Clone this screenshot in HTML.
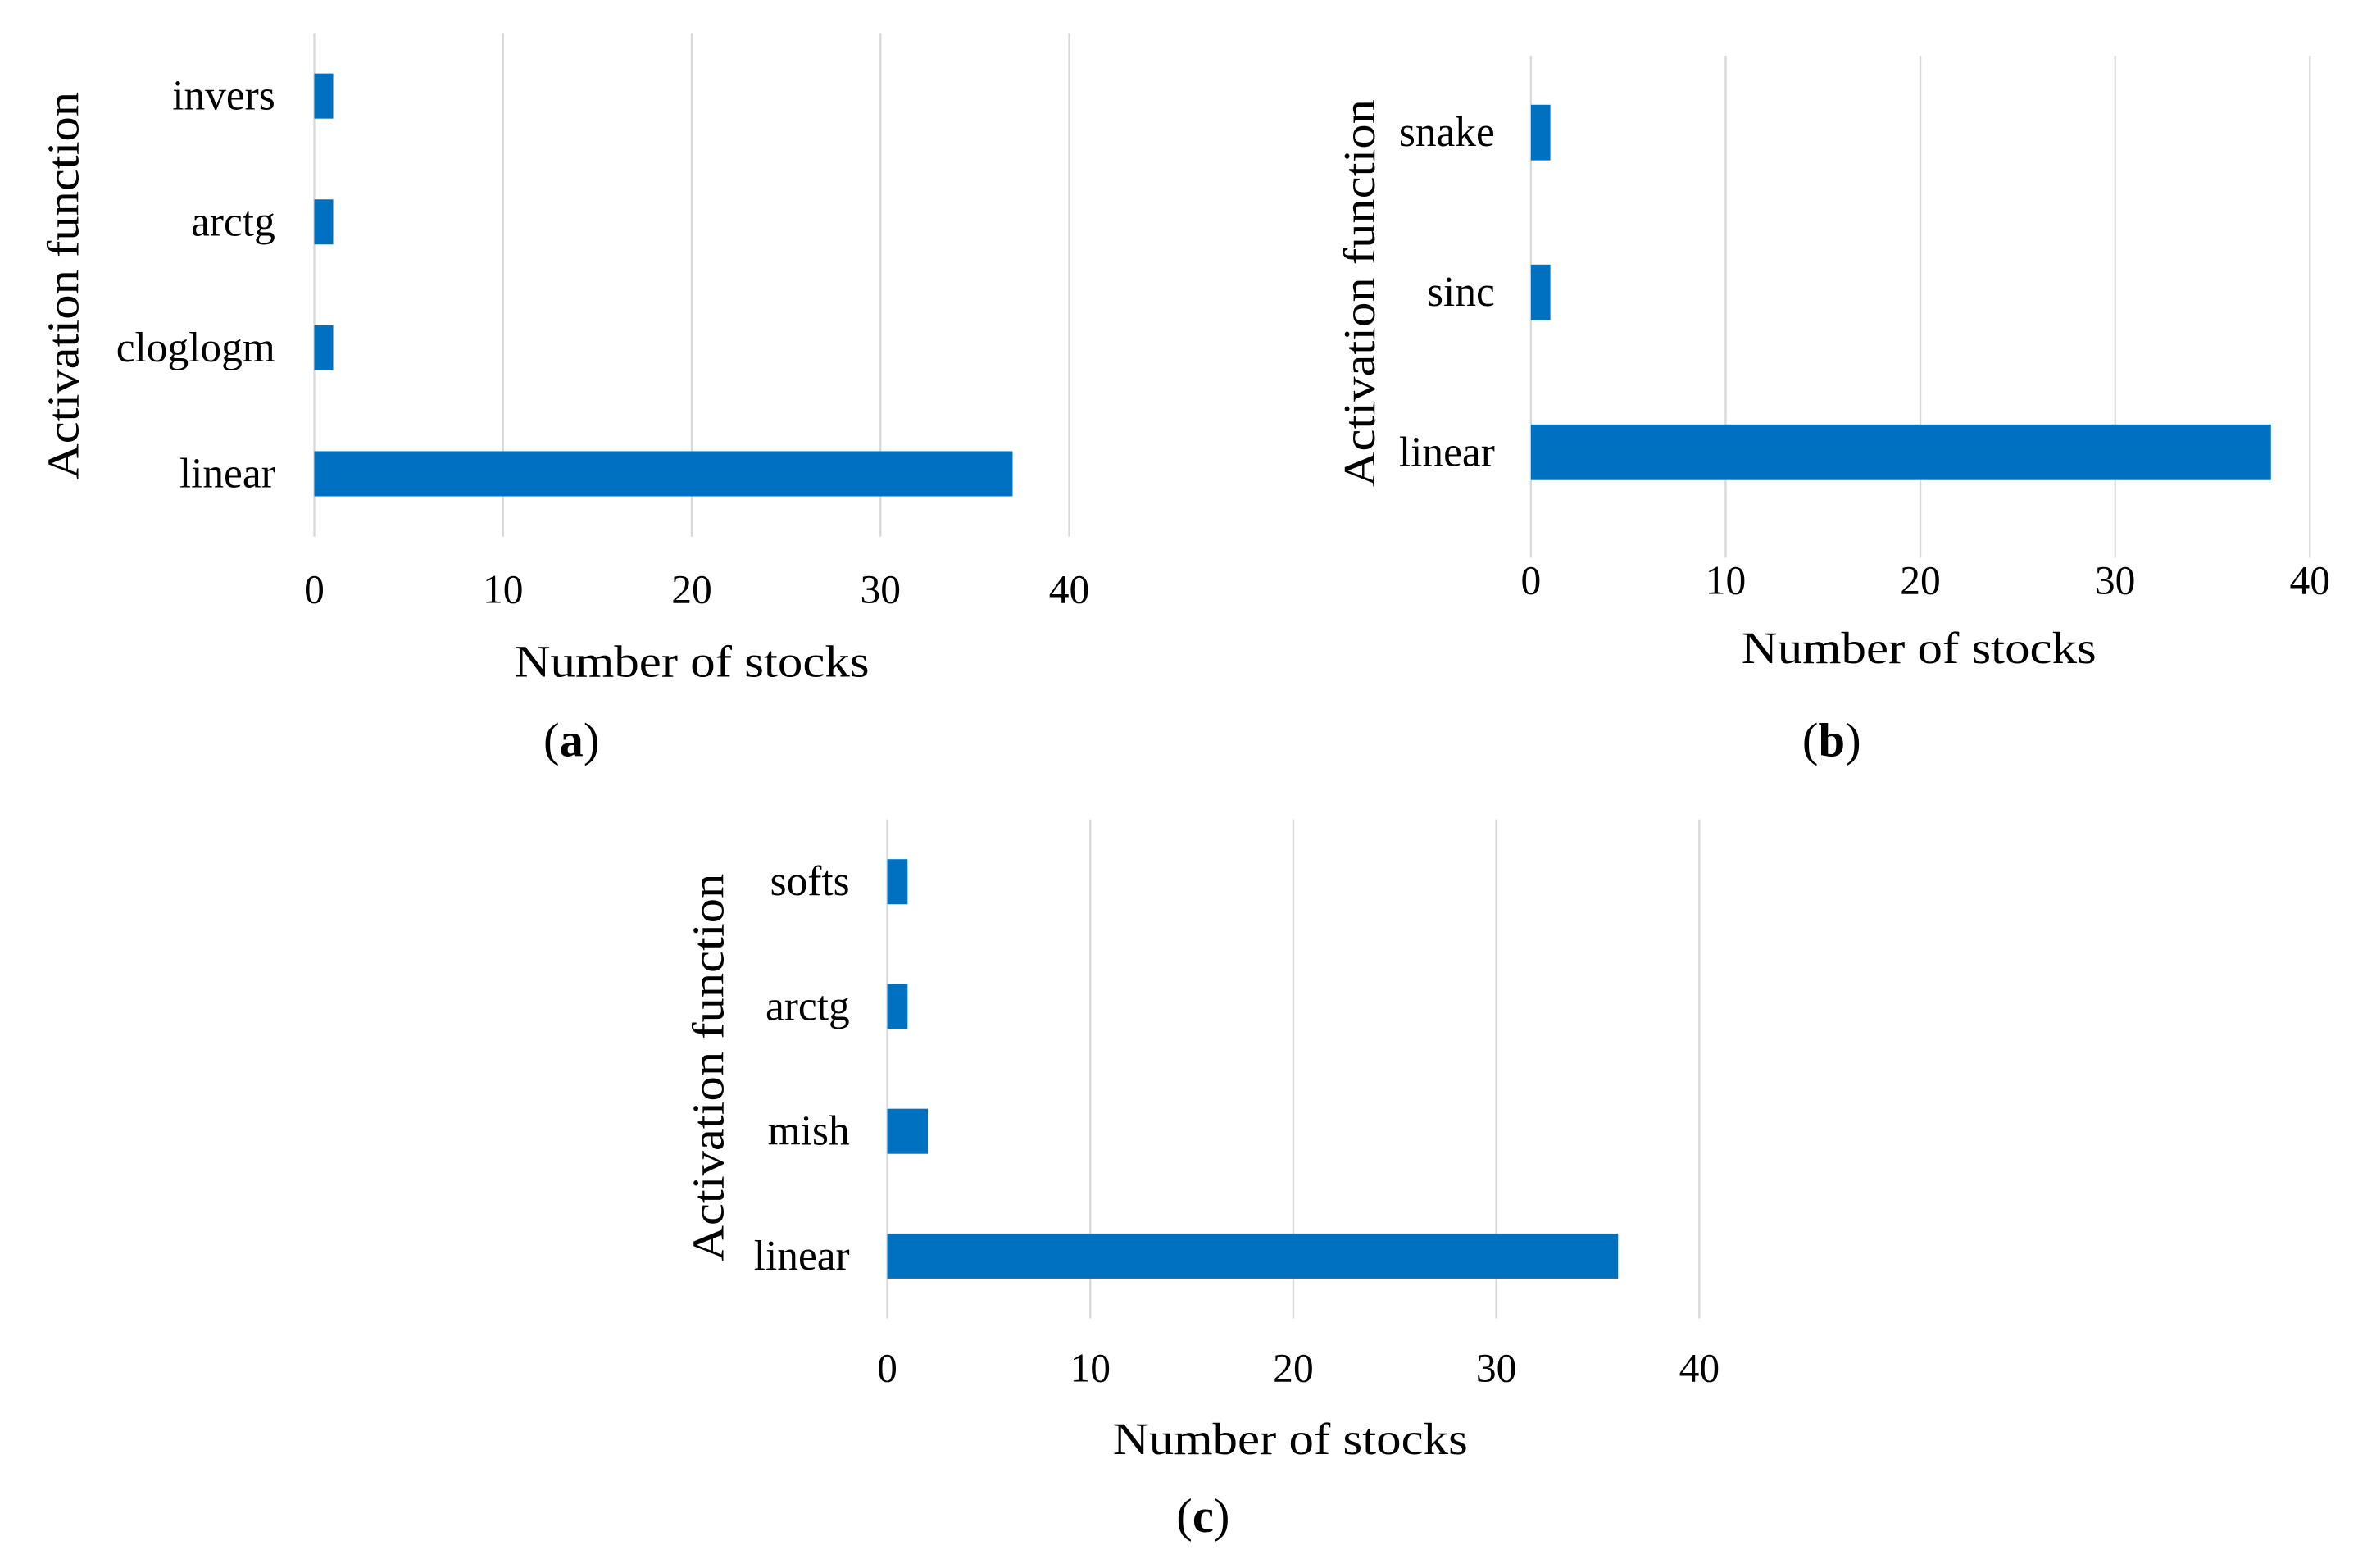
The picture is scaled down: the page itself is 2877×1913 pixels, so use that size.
<!DOCTYPE html>
<html><head><meta charset="utf-8"><style>
html,body{margin:0;padding:0;background:#fff;}
svg{display:block;}
text{font-family:"Liberation Serif",serif;fill:#000;}
</style></head><body>
<svg id="fig" width="2877" height="1913" viewBox="0 0 1568 1043" preserveAspectRatio="none" xmlns="http://www.w3.org/2000/svg"></svg>
<script>
const catsA = ["linear","cloglogm","arctg","invers"];
const valsA = [37,1,1,1];
const catsB = ["linear","sinc","snake"];
const valsB = [38,1,1];
const catsC = ["linear","mish","arctg","softs"];
const valsC = [36,2,1,1];
const ticks = [0,10,20,30,40];
const tickLabels = ["0","10","20","30","40"];

const NS="http://www.w3.org/2000/svg";
const svg=document.getElementById('fig');
function mk(tag,attrs,parent){const e=document.createElementNS(NS,tag);for(const k in attrs)e.setAttribute(k,attrs[k]);(parent||svg).appendChild(e);return e;}

function panel(id,cats,vals,cfg){
  const g=mk('g',{});
  
  
  const x=v=>cfg.x0+(cfg.x40-cfg.x0)*v/40;
  const n=cats.length, band=(cfg.bandBot-cfg.bandTop)/n;
  const yc=i=>cfg.bandBot-band*(i+0.5);
  ticks.forEach((t,i)=>{
    const l=mk('line',{x1:x(t),x2:x(t),y1:cfg.top,y2:cfg.bot,stroke:'#d9d9d9','stroke-width':1.3},g);
    
    
    const tx=mk('text',{x:x(t),y:cfg.tickY,'font-size':27,'text-anchor':'middle','dominant-baseline':'central'},g);
    tx.textContent=tickLabels[i];
    
    
  });
  cats.forEach((c,i)=>{
    const r=mk('rect',{x:x(0),y:yc(i)-cfg.bh/2,width:x(vals[i])-x(0),height:cfg.bh,fill:'#0070c0'},g);
    
    
    const t=mk('text',{x:cfg.labR,y:yc(i),'font-size':28,'text-anchor':'end','dominant-baseline':'central'},g);
    t.textContent=c;
    
    
  });
  const xt=mk('text',{x:cfg.xtX,y:cfg.xtY,'font-size':30,'text-anchor':'middle','dominant-baseline':'central',textLength:236,lengthAdjust:'spacingAndGlyphs'},g);
  xt.textContent='Number of stocks';
  
  
  const yt=mk('text',{x:0,y:0,'font-size':30,'text-anchor':'middle','dominant-baseline':'central',textLength:258,lengthAdjust:'spacingAndGlyphs',transform:`translate(${cfg.ytX},${cfg.ytY}) rotate(-90)`},g);
  yt.textContent='Activation function';
  
  
  const cap=mk('text',{x:cfg.capX,y:cfg.capY,'font-size':32,'text-anchor':'middle','dominant-baseline':'central'},g);
  cap.innerHTML='(<tspan font-weight="bold">'+id+'</tspan>)';
  
  
}
panel('a',catsA,valsA,{x0:209,x40:711,top:22,bot:357,bandTop:22,bandBot:357,bh:30,labR:183,tickY:392,xtX:460,xtY:440,ytX:42,ytY:190,capX:380,capY:492});
panel('b',catsB,valsB,{x0:1018,x40:1536,top:37,bot:371,bandTop:35,bandBot:354,bh:37,labR:994,tickY:386,xtX:1276,xtY:431,ytX:904,ytY:195,capX:1218,capY:492});
panel('c',catsC,valsC,{x0:590,x40:1130,top:545,bot:877,bandTop:545,bandBot:877,bh:30,labR:565,tickY:910,xtX:858,xtY:957,ytX:471,ytY:710,capX:800,capY:1008});
</script>
</body></html>
